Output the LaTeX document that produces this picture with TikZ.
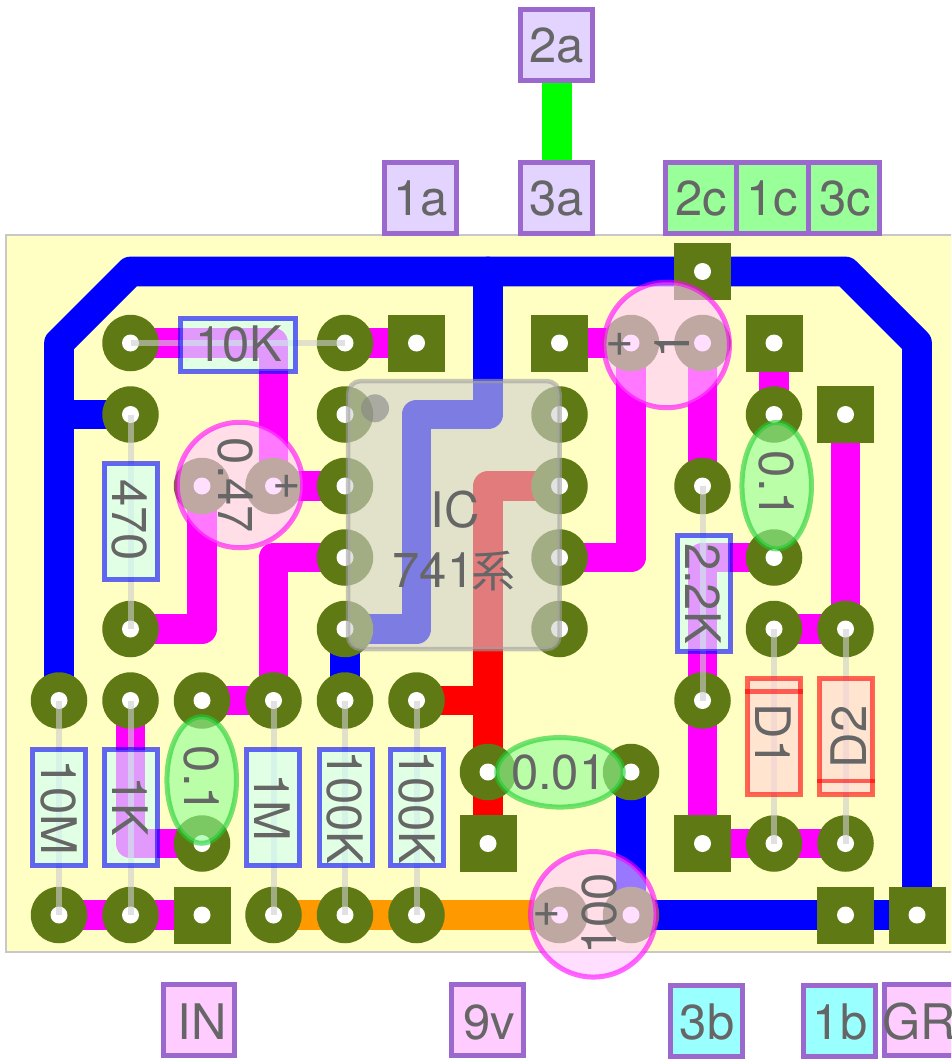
\documentclass[tikz,border=0pt]{standalone}
\usepackage{fontspec}
\setmainfont{TeX Gyre Heros}
\newfontfamily\cjkfont{Noto Sans CJK JP}
\usetikzlibrary{shapes.geometric}
\definecolor{board}{RGB}{255,255,196}
\definecolor{boardedge}{RGB}{200,200,200}
\definecolor{padcol}{RGB}{95,122,20}
\definecolor{inkcol}{RGB}{102,102,102}
\definecolor{labstroke}{RGB}{155,105,205}
\definecolor{labpurple}{RGB}{227,211,255}
\definecolor{labgreen}{RGB}{153,255,153}
\definecolor{labpink}{RGB}{255,204,255}
\definecolor{labcyan}{RGB}{153,255,255}
\definecolor{orangetrace}{RGB}{255,153,0}
\definecolor{resfill}{RGB}{205,255,250}
\definecolor{diofill}{RGB}{255,213,217}
\definecolor{elfill}{RGB}{255,200,255}
\definecolor{cerfill}{RGB}{140,255,150}
\definecolor{cerstroke}{RGB}{30,205,50}
\definecolor{wirecol}{RGB}{205,205,205}
\definecolor{icfill}{RGB}{208,208,208}
\definecolor{icstroke}{RGB}{160,160,160}
\definecolor{icdot}{RGB}{133,133,133}
\definecolor{puremag}{RGB}{255,0,255}
\definecolor{pureblue}{RGB}{0,0,255}
\definecolor{purered}{RGB}{255,0,0}
\definecolor{puregreen}{RGB}{0,255,0}
\tikzset{
  trace/.style={line width=29.7pt,line join=round,line cap=round},
  bluetrace/.style={trace,draw=pureblue},
  magtrace/.style={trace,draw=puremag},
  redtrace/.style={trace,draw=purered},
  orgtrace/.style={trace,draw=orangetrace},
  padround/.style={circle,fill=padcol,minimum size=56.5pt,inner sep=0pt},
  padsquare/.style={rectangle,fill=padcol,minimum size=57pt,inner sep=0pt},
  holedot/.style={circle,fill=white,minimum size=17pt,inner sep=0pt},
  wire/.style={draw=wirecol,draw opacity=.6,line width=6pt,line cap=butt},
  resbox/.style={rectangle,draw=pureblue,draw opacity=.6,fill=resfill,fill opacity=.6,line width=5pt,inner sep=0pt},
  diobox/.style={rectangle,draw=purered,draw opacity=.6,fill=diofill,fill opacity=.6,line width=5pt,inner sep=0pt,minimum width=53pt,minimum height=116pt},
  diobar/.style={draw=purered,draw opacity=.6,line width=4.5pt},
  elcap/.style={circle,draw=puremag,draw opacity=.6,fill=elfill,fill opacity=.6,line width=5pt,inner sep=0pt,minimum size=125.5pt},
  cercap/.style={ellipse,draw=cerstroke,draw opacity=.6,fill=cerfill,fill opacity=.6,line width=5pt,inner sep=0pt},
  txt/.style={text=inkcol,inner sep=0pt,font=\fontsize{49}{49}\selectfont},
  labbox/.style={rectangle,draw=labstroke,line width=5pt,inner sep=0pt,minimum width=71.5pt,minimum height=71.5pt},
}
\begin{document}
\begin{tikzpicture}[x=1pt,y=-1pt]
\useasboundingbox (0,0) rectangle (951,1059);
\clip (0,0) rectangle (951,1059);
% grid of the board
\foreach \c in {0,...,12}{\foreach \r in {0,...,9}{
  \coordinate (g\c-\r) at ({59+71.5*\c},{271.5+71.5*\r});
}}
% board
\path[fill=board,draw=boardedge,line width=2pt] (5.5,235.5) rectangle (1000,951.5);
% blue traces
\draw[bluetrace] (g0-6) -- (g0-1) -- (g1-0) -- (g11-0) -- (g12-1) -- (g12-9) -- (g8-9) -- (g8-7);
\draw[bluetrace] (g0-2) -- (g1-2);
\draw[bluetrace] (g6-0) -- (g6-2) -- (g5-2) -- (g5-5) -- (g4-5) -- (g4-6);
% magenta traces
\draw[magtrace] (g1-1) -- (g3-1) -- (g3-3) -- (g4-3);
\draw[magtrace] (g4-1) -- (g5-1);
\draw[magtrace] (g1-5) -- (g2-5) -- (g2-3);
\draw[magtrace] (g4-4) -- (g3-4) -- (g3-6) -- (g2-6);
\draw[magtrace] (g1-6) -- (g1-8) -- (g2-8);
\draw[magtrace] (g0-9) -- (g2-9);
\draw[magtrace] (g7-1) -- (g8-1) -- (g8-4) -- (g7-4);
\draw[magtrace] (g9-1) -- (g9-3);
\draw[magtrace] (g10-4) -- (g9-4) -- (g9-8) -- (g11-8);
\draw[magtrace] (g10-1) -- (g10-2);
\draw[magtrace] (g11-2) -- (g11-5) -- (g10-5);
% red and orange traces
\draw[redtrace] (g7-3) -- (g6-3) -- (g6-8);
\draw[redtrace] (g5-6) -- (g6-6);
\draw[orgtrace] (g3-9) -- (g7-9);
% pads
\foreach \c/\r in {1/1,4/1,8/1,9/1,1/2,4/2,7/2,10/2,2/3,3/3,4/3,7/3,9/3,4/4,7/4,10/4,1/5,4/5,7/5,10/5,11/5,0/6,1/6,2/6,3/6,4/6,5/6,9/6,6/7,8/7,2/8,10/8,11/8,0/9,1/9,3/9,4/9,5/9,7/9,8/9}{
  \node[padround] (p\c-\r) at (g\c-\r) {};
  \node[holedot] (h\c-\r) at (g\c-\r) {};
}
\foreach \c/\r in {9/0,5/1,7/1,10/1,11/2,2/9,6/8,9/8,11/9,12/9}{
  \node[padsquare] (p\c-\r) at (g\c-\r) {};
  \node[holedot] (h\c-\r) at (g\c-\r) {};
}
% component leads
\draw[wire] (g1-1) -- (g4-1);
\draw[wire] (g1-2) -- (g1-5);
\draw[wire] (g0-6) -- (g0-9);
\draw[wire] (g1-6) -- (g1-9);
\draw[wire] (g3-6) -- (g3-9);
\draw[wire] (g4-6) -- (g4-9);
\draw[wire] (g5-6) -- (g5-9);
\draw[wire] (g9-3) -- (g9-6);
\draw[wire] (g10-5) -- (g10-8);
\draw[wire] (g11-5) -- (g11-8);
% resistors
\node[resbox,minimum width=115.5pt,minimum height=53pt] (r10k) at (238,344.7) {};
\node[resbox,minimum width=53pt,minimum height=116pt] (r470) at (130.6,521.5) {};
\node[resbox,minimum width=53pt,minimum height=116pt] (r10m) at (59.3,807.5) {};
\node[resbox,minimum width=53pt,minimum height=116pt] (r1k) at (130.6,807.5) {};
\node[resbox,minimum width=53pt,minimum height=116pt] (r1m) at (273.3,807.5) {};
\node[resbox,minimum width=53pt,minimum height=116pt] (r100ka) at (346,807.5) {};
\node[resbox,minimum width=53pt,minimum height=116pt] (r100kb) at (417.2,807.5) {};
\node[resbox,minimum width=53pt,minimum height=116pt] (r22k) at (703.7,593) {};
% diodes
\node[diobox] (d1) at (774.3,736.3) {};
\node[diobox] (d2) at (846,736.3) {};
\draw[diobar] (d1.west |- 0,691.3) -- (d1.east |- 0,691.3);
\draw[diobar] (d2.west |- 0,781) -- (d2.east |- 0,781);
% capacitors
\node[elcap] (c047) at (240,485) {};
\node[elcap] (c1) at (666.7,345) {};
\node[elcap] (c100) at (593.3,914.3) {};
\node[cercap,minimum width=69.5pt,minimum height=126.5pt] (c01r) at (776.7,485.7) {};
\node[cercap,minimum width=69.5pt,minimum height=126.5pt] (c01l) at (201.7,780) {};
\node[cercap,minimum width=126.5pt,minimum height=69.5pt] (c001) at (560,772.3) {};
% IC
\node[rectangle,rounded corners=13pt,draw=icstroke,draw opacity=.6,fill=icfill,fill opacity=.6,line width=4.5pt,minimum width=211.5pt,minimum height=268pt,inner sep=0pt] (ic) at (453.8,515) {};
\node[circle,fill=icdot,fill opacity=.6,minimum size=28pt,inner sep=0pt] (icdotmark) at (375,408.3) {};
% component texts
\node[txt] (t10k) at (239,344) {10K};
\node[txt,rotate=-90] (t470) at (130,520) {470};
\node[txt,rotate=-90] (t047) at (235,485.5) {0.47};
\node[txt] (tp047) at (286.7,486.7) {+};
\node[txt,rotate=90] (t1) at (672,345) {1};
\node[txt] (tp1) at (620,345) {+};
\node[txt,rotate=90] (t100) at (599,914) {100};
\node[txt] (tp100) at (546.7,915) {+};
\node[txt,rotate=-90] (t01r) at (776,485) {0.1};
\node[txt,rotate=-90] (t01l) at (201.7,780) {0.1};
\node[txt] (t001) at (558.8,772.7) {0.01};
\node[txt,rotate=-90] (t10m) at (59,807.4) {10M};
\node[txt,rotate=-90] (t1k) at (130,806.7) {1K};
\node[txt,rotate=-90] (t1m) at (272.3,807.4) {1M};
\node[txt,rotate=-90] (t100ka) at (345,807.2) {100K};
\node[txt,rotate=-90] (t100kb) at (416.7,807.2) {100K};
\node[txt,rotate=-90] (t22k) at (703,593.4) {2.2K};
\node[txt,rotate=-90] (td1) at (773.3,735) {D1};
\node[txt,rotate=90] (td2) at (848.3,737) {D2};
\node[txt,anchor=base] (tic) at (455,527.7) {IC};
\node[txt,anchor=base] (tic2) at (454,587) {741\kern-3pt{\cjkfont\fontsize{44}{44}\selectfont 系}};
% connection labels
\node[labbox,fill=labpurple] (l1a) at (420.5,198) {};
\node[labbox,fill=labpurple] (l2a) at (556.7,45) {};
\node[labbox,fill=labpurple] (l3a) at (556.7,198) {};
\draw[line width=29.7pt,draw=puregreen] (l2a.south) -- (l3a.north);
\node[labbox,fill=labgreen] (l2c) at (700.8,198) {};
\node[labbox,fill=labgreen] (l1c) at (772.3,198) {};
\node[labbox,fill=labgreen] (l3c) at (844,198) {};
\node[labbox,fill=labpink] (lin) at (199,1020) {};
\node[labbox,fill=labpink] (l9v) at (487.7,1020) {};
\node[labbox,fill=labcyan] (l3b) at (706.7,1021) {};
\node[labbox,fill=labcyan] (l1b) at (839.7,1021) {};
\node[labbox,fill=labpink,minimum width=100pt,anchor=west] (lgr) at (881.7,1020) {};
\node[txt] (t1a) at (420.5,198) {1a};
\node[txt] (t2a) at (556.7,45.5) {2a};
\node[txt] (t3a) at (556.7,198) {3a};
\node[txt] (t2c) at (701.4,198.3) {2c};
\node[txt] (t1c) at (772.3,198.3) {1c};
\node[txt] (t3c) at (845.4,198.3) {3c};
\node[txt] (tin) at (202,1021.7) {IN};
\node[txt] (t9v) at (489.5,1022) {9v};
\node[txt] (t3b) at (707,1022) {3b};
\node[txt] (t1b) at (840,1022) {1b};
\node[txt,anchor=west] (tgr) at (882.6,1022) {GR};
\end{tikzpicture}
\end{document}
